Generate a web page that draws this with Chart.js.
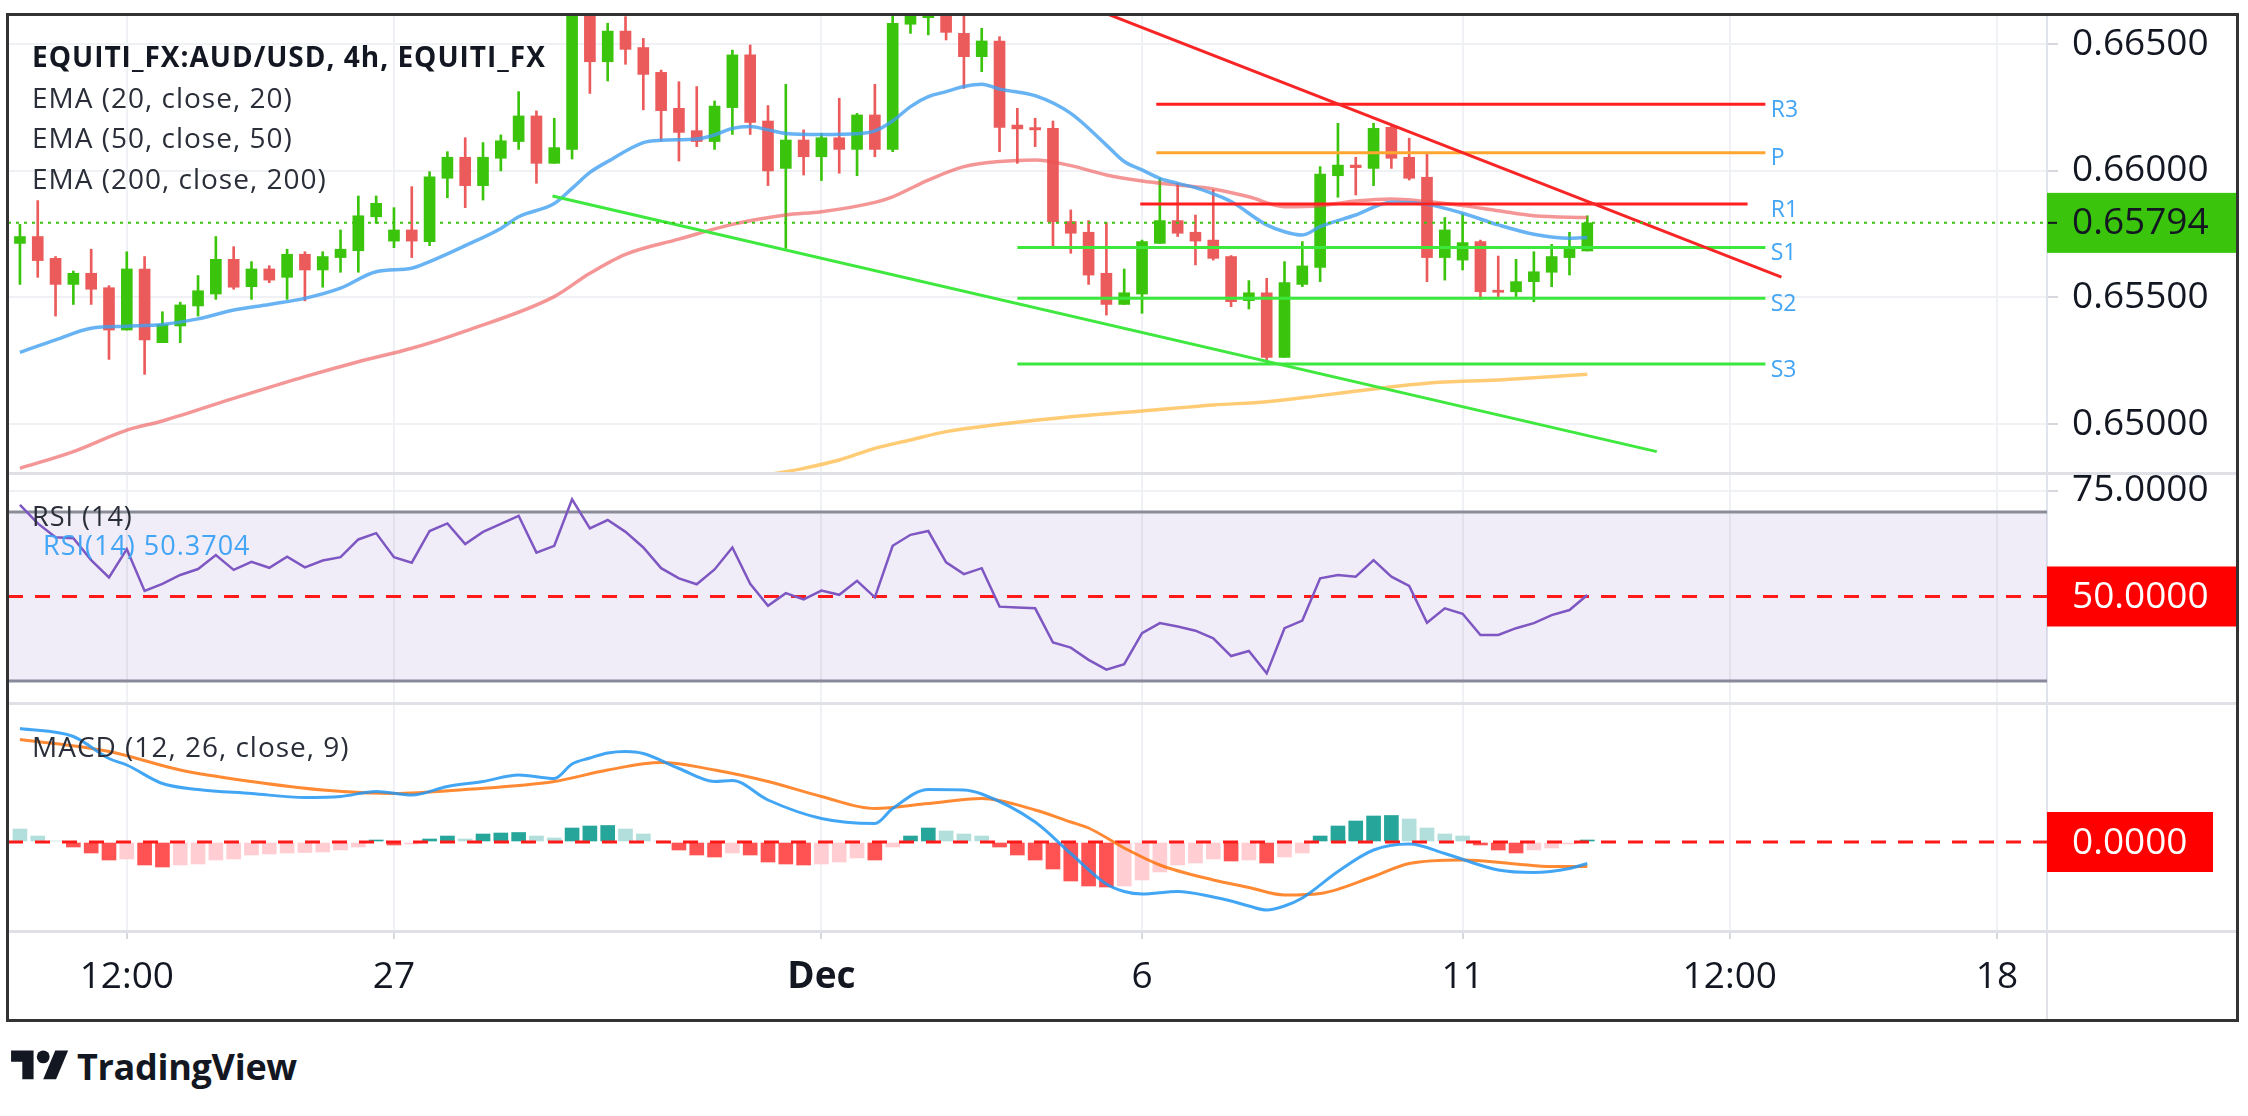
<!DOCTYPE html>
<html>
<head>
<meta charset="utf-8">
<title>EQUITI_FX:AUD/USD 4h</title>
<script src="https://cdn.jsdelivr.net/npm/chart.js@4/dist/chart.umd.min.js"></script>
<style>
  html, body { margin:0; padding:0; background:#ffffff; }
  body { width:2248px; height:1116px; position:relative; overflow:hidden; font-family:'Open Sans', sans-serif; }
  canvas { position:absolute; left:0; }
  .t { position:absolute; white-space:nowrap; color:#2a2e39; letter-spacing:1px; line-height:40px; font-size:28px; pointer-events:none; }
  .sep { position:absolute; background:#dfe1e6; }
</style>
</head>
<body>
<canvas id="cp" width="2248" height="473" style="top:0;width:2248px;height:473px"></canvas>
<canvas id="cr" width="2248" height="230" style="top:473px;width:2248px;height:230px"></canvas>
<canvas id="cm" width="2248" height="317" style="top:703px;width:2248px;height:317px"></canvas>
<div class="sep" style="left:9px;top:472px;width:2228px;height:3px"></div>
<div class="sep" style="left:9px;top:702px;width:2228px;height:3px"></div>
<div class="sep" style="left:9px;top:930px;width:2228px;height:3px"></div>
<div class="sep" style="left:2046px;top:930px;width:2px;height:89px"></div>
<div style="position:absolute;left:6px;top:13px;width:2227px;height:1003px;border:3px solid #333;pointer-events:none"></div>

<div class="t" id="title" style="left:32px;top:36px;font-weight:700;color:#131722"></div>
<div class="t" id="lg0" style="left:32px;top:77px"></div>
<div class="t" id="lg1" style="left:32px;top:117px"></div>
<div class="t" id="lg2" style="left:32px;top:158px"></div>
<div class="t" id="rsiT" style="left:32px;top:496px;font-size:27px"></div>
<div class="t" id="rsiV" style="left:43px;top:525px;font-size:27px;color:#42a5f5"></div>
<div class="t" id="macdT" style="left:32px;top:726px"></div>

<div style="position:absolute;left:11px;top:1044px;height:44px;display:flex;align-items:center;">
  <svg width="58" height="45" viewBox="0 0 36 28"><path d="M14 22H7V11H0V4h14v18z" fill="#131722"/><circle cx="20" cy="8" r="4" fill="#131722"/><path d="M28 22h-8l7.5-18h8L28 22z" fill="#131722"/></svg>
  <span style="font-weight:700;font-size:36px;margin-left:8px;color:#131722;letter-spacing:-0.3px">TradingView</span>
</div>

<script>
// ---------------- DATA ----------------
const titleText = 'EQUITI_FX:AUD/USD, 4h, EQUITI_FX';
const legendTexts = ['EMA (20, close, 20)', 'EMA (50, close, 50)', 'EMA (200, close, 200)'];
const rsiTitle = 'RSI (14)';
const macdTitle = 'MACD (12, 26, close, 9)';

// bar positions: first visible bar index relative to Nov 27 00:00 (4h bars)
const FIRST_BAR = -21;
const timeTickPos = [-15, 0, 24, 42, 60, 75, 90];
const timeTickLabels = ['12:00', '27', 'Dec', '6', '11', '12:00', '18'];
const priceTicks = [0.650, 0.655, 0.660, 0.665];
const rsiTicks = [75];

const opens = [0.65713,0.65740,0.65654,0.65551,0.65595,0.65538,0.65371,0.65612,0.65321,0.65387,0.65466,0.65513,0.65650,0.65542,0.65612,0.65579,0.65670,0.65608,0.65657,0.65684,0.65818,
0.65722,0.65766,0.65720,0.65970,0.66053,0.65941,0.66049,0.66115,0.66216,0.66029,0.66084,0.66634,0.66430,0.66551,0.66486,0.66388,0.66246,0.66158,0.66115,0.66249,0.66457,0.66196,0.66009,0.66121,
0.66055,0.66130,0.66084,0.66220,0.66084,0.66578,0.66604,0.66621,0.66542,0.66450,0.66512,0.66180,0.66170,0.66167,0.65799,0.65757,0.65595,0.65472,0.65513,0.65713,0.65803,0.65757,0.65726,0.65661,
0.65487,0.65518,0.65263,0.65551,0.65618,0.65980,0.66022,0.66009,0.66171,0.66053,0.65974,0.65657,0.65647,0.65720,0.65528,0.65522,0.65562,0.65599,0.65657,0.65683];
const highs = [0.65788,0.65882,0.65661,0.65604,0.65690,0.65546,0.65680,0.65661,0.65443,0.65481,0.65586,0.65740,0.65700,0.65641,0.65625,0.65690,0.65680,0.65680,0.65766,0.65900,0.65900,
0.65854,0.65937,0.65996,0.66075,0.66130,0.66111,0.66141,0.66312,0.66236,0.66207,0.66654,0.66647,0.66582,0.66608,0.66522,0.66397,0.66351,0.66332,0.66275,0.66476,0.66496,0.66257,0.66341,0.66161,
0.66147,0.66286,0.66226,0.66341,0.66621,0.66641,0.66647,0.66634,0.66614,0.66562,0.66529,0.66246,0.66207,0.66196,0.65845,0.65803,0.65795,0.65612,0.65726,0.65970,0.65950,0.65825,0.65924,0.65665,
0.65566,0.65575,0.65641,0.65720,0.66016,0.66187,0.66053,0.66187,0.66176,0.66128,0.66071,0.65815,0.65829,0.65726,0.65663,0.65650,0.65680,0.65709,0.65757,0.65822];
const lows = [0.65551,0.65579,0.65426,0.65472,0.65472,0.65255,0.65371,0.65196,0.65321,0.65321,0.65426,0.65492,0.65532,0.65492,0.65558,0.65492,0.65486,0.65540,0.65599,0.65599,0.65792,
0.65696,0.65657,0.65704,0.65893,0.65854,0.65884,0.65999,0.66084,0.65950,0.66029,0.66046,0.66305,0.66354,0.66420,0.66240,0.66117,0.66038,0.66095,0.66084,0.66143,0.66143,0.65941,0.65693,0.65983,
0.65961,0.65990,0.65980,0.66055,0.66075,0.66542,0.66536,0.66516,0.66325,0.66391,0.66075,0.66029,0.66095,0.65693,0.65674,0.65551,0.65430,0.65472,0.65437,0.65713,0.65740,0.65628,0.65647,0.65463,
0.65454,0.65236,0.65263,0.65542,0.65562,0.65895,0.65904,0.65941,0.66009,0.65963,0.65562,0.65568,0.65608,0.65492,0.65503,0.65503,0.65483,0.65542,0.65588,0.65683];
const closes = [0.65740,0.65645,0.65551,0.65595,0.65532,0.65371,0.65612,0.65332,0.65393,0.65470,0.65526,0.65650,0.65540,0.65612,0.65568,0.65670,0.65608,0.65661,0.65690,0.65822,0.65871,
0.65766,0.65722,0.65976,0.66053,0.65941,0.66053,0.66118,0.66216,0.66029,0.66091,0.66634,0.66430,0.66551,0.66479,0.66380,0.66237,0.66151,0.66115,0.66255,0.66457,0.66190,0.65999,0.66121,0.66055,
0.66130,0.66084,0.66220,0.66084,0.66582,0.66621,0.66625,0.66546,0.66450,0.66512,0.66171,0.66165,0.66161,0.65799,0.65753,0.65588,0.65472,0.65518,0.65720,0.65803,0.65753,0.65722,0.65654,0.65483,
0.65518,0.65263,0.65558,0.65624,0.65987,0.66022,0.66012,0.66167,0.66049,0.65970,0.65657,0.65766,0.65716,0.65522,0.65520,0.65562,0.65601,0.65661,0.65693,0.65794];

// EMA readings [bar, price]
const ema20 = [[-21,0.65283],[-19,0.65332],[-17,0.65378],[-15,0.65386],[-13,0.65393],[-11,0.65415],[-9,0.65450],[-7,0.65472],[-5,0.65496],[-3,0.65536],[-1,0.65601],[1,0.65615],[2,0.65641],[4,0.65704],[6,0.65772],[7,0.65818],[9,0.65870],[10,0.65930],[11,0.65993],[12,0.66036],[14,0.66111],[15,0.66120],[17,0.66125],[18,0.66141],[19,0.66167],[20,0.66174],[21,0.66161],[22,0.66147],[24,0.66143],[26,0.66146],[27,0.66157],[28,0.66196],[29,0.66253],[30,0.66292],[31,0.66312],[32,0.66332],[33,0.66341],[34,0.66322],[36,0.66296],[38,0.66226],[40,0.66101],[41,0.66036],[42,0.66003],[43,0.65970],[44,0.65950],[45,0.65933],[46,0.65908],[47,0.65878],[49,0.65786],[50,0.65759],[51,0.65746],[52,0.65779],[54,0.65825],[56,0.65875],[58,0.65867],[60,0.65832],[62,0.65786],[64,0.65749],[66,0.65733],[67,0.65736]];
const ema50 = [[-21,0.64825],[-18,0.64891],[-15,0.64976],[-13,0.65012],[-9,0.65101],[-5,0.65187],[-2,0.65246],[1,0.65299],[4,0.65367],[9,0.65503],[11,0.65595],[13,0.65670],[16,0.65730],[19,0.65788],[22,0.65825],[24,0.65838],[27,0.65875],[28,0.65897],[30,0.65963],[32,0.66016],[34,0.66036],[36,0.66042],[38,0.66020],[40,0.65983],[42,0.65959],[44,0.65943],[46,0.65928],[48,0.65897],[50,0.65858],[52,0.65862],[54,0.65880],[56,0.65888],[58,0.65878],[60,0.65862],[62,0.65842],[64,0.65822],[67,0.65815]];
const ema200 = [[21,0.64799],[23,0.64825],[25,0.64858],[27,0.64904],[29,0.64937],[31,0.64970],[34,0.64999],[38,0.65029],[42,0.65051],[46,0.65075],[49,0.65088],[52,0.65112],[55,0.65138],[58,0.65161],[62,0.65174],[67,0.65196]];

// Pivot levels
const pivotNames = ['R3', 'P', 'R1', 'S1', 'S2', 'S3'];
const pivotLevels = [0.66262, 0.66071, 0.65868, 0.65697, 0.65496, 0.65237];
const pivotStart = [42.8, 42.8, 41.9, 35.0, 35.0, 35.0];
const pivotEnd = [77.0, 77.0, 76.0, 77.0, 77.0, 77.0];
const pivotColors = ['#ff1f1f', '#ffa630', '#ff1f1f', '#3de83d', '#3de83d', '#3de83d'];

// Trendlines [bar, price]
const resistanceLine = [[40, 0.66620], [77.9, 0.65580]];
const supportLine = [[8.9, 0.65900], [70.9, 0.64891]];

// RSI (14) per bar
const rsi = [71.7,67.3,64.0,63.8,58.6,54.5,61.2,51.3,53.0,55.1,56.5,59.8,56.3,58.2,56.8,59.4,56.9,58.5,59.3,63.5,65.0,
59.3,58.0,65.5,67.3,62.4,65.3,67.2,69.1,60.4,62.0,73.0,66.1,68.1,65.3,61.6,56.7,54.3,52.9,56.4,61.6,53.0,47.8,50.8,49.3,
51.4,50.4,53.7,49.8,62.0,64.6,65.5,58.1,55.3,56.7,47.6,47.4,47.2,39.1,37.9,35.0,32.7,34.0,41.3,43.7,42.9,41.9,40.1,35.9,
37.1,31.8,42.5,44.3,54.3,55.1,54.7,58.6,54.7,52.5,43.8,47.2,45.9,40.9,40.9,42.5,43.7,45.6,46.8,50.3704];
const rsiBands = [70, 30];
const rsiMid = 50;

// MACD readings
const macdLine = [[-21,0.00227],[-18,0.00211],[-16,0.00167],[-15,0.00154],[-13,0.00117],[-11,0.00105],[-8,0.00097],[-5,0.00089],[-3,0.00091],[-1,0.00101],[1,0.00094],[3,0.00111],[5,0.00121],[7,0.00134],[9,0.00127],[10,0.00156],[11,0.00168],[12,0.00178],[13,0.00181],[14,0.00177],[16,0.00147],[18,0.00121],[19,0.00123],[21,0.00084],[24,0.00047],[27,0.00037],[28,0.00067],[30,0.00105],[32,0.00104],[33,0.00096],[36,0.00040],[38,-0.00023],[40,-0.00084],[41,-0.00099],[42,-0.00104],[44,-0.00099],[46,-0.00110],[47,-0.00118],[48,-0.00128],[49,-0.00136],[50,-0.00128],[51,-0.00112],[53,-0.00059],[55,-0.00016],[57,-0.00004],[59,-0.00023],[62,-0.00056],[64,-0.00061],[66,-0.00053],[67,-0.00043]];
const macdSignal = [[-21,0.00205],[-16,0.00181],[-12,0.00144],[-8,0.00121],[-4,0.00104],[0,0.00097],[4,0.00105],[9,0.00121],[12,0.00144],[15,0.00159],[18,0.00144],[21,0.00121],[24,0.00091],[27,0.00067],[30,0.00077],[33,0.00087],[36,0.00064],[38,0.00040],[39,0.00028],[41,-0.00012],[43,-0.00046],[46,-0.00076],[48,-0.00091],[50,-0.00106],[52,-0.00103],[55,-0.00069],[57,-0.00043],[60,-0.00036],[63,-0.00044],[65,-0.00049],[67,-0.00049]];
const macdHist = [0.00026,0.00012,0.00002,-0.00010,-0.00022,-0.00036,-0.00034,-0.00046,-0.00050,-0.00046,-0.00044,-0.00036,-0.00034,-0.00026,-0.00024,-0.00022,-0.00021,-0.00020,-0.00016,-0.00010,0.00004,
-0.00006,-0.00004,0.00006,0.00012,0.00006,0.00016,0.00018,0.00019,0.00012,0.00008,0.00028,0.00032,0.00033,0.00026,0.00016,0.00002,-0.00016,-0.00026,-0.00030,-0.00022,-0.00026,-0.00040,-0.00044,-0.00046,
-0.00044,-0.00040,-0.00032,-0.00036,-0.00010,0.00012,0.00028,0.00022,0.00016,0.00012,-0.00010,-0.00026,-0.00036,-0.00054,-0.00078,-0.00088,-0.00090,-0.00088,-0.00076,-0.00060,-0.00046,-0.00042,-0.00034,-0.00038,
-0.00036,-0.00042,-0.00030,-0.00022,0.00012,0.00032,0.00042,0.00052,0.00053,0.00046,0.00028,0.00016,0.00012,-0.00006,-0.00016,-0.00022,-0.00016,-0.00012,-0.00004,0.00004];

// ---------------- STYLE / LAYOUT ----------------
const UP = '#3bc40c', DOWN = '#ec5b5b';
const GRID = '#f0f1f4';
const X_MIN = -21.67, X_MAX = 92.81;
const PIVOT_LABEL_X = 77.3;
Chart.defaults.font.family = "'Open Sans', sans-serif";
Chart.defaults.color = '#131722';
Chart.defaults.animation = false;
Chart.defaults.responsive = false;
Chart.defaults.plugins.legend.display = false;
Chart.defaults.plugins.tooltip.enabled = false;
Chart.defaults.elements.point.radius = 0;

document.getElementById('title').textContent = titleText;
legendTexts.forEach((t, i) => document.getElementById('lg' + i).textContent = t);
document.getElementById('rsiT').textContent = rsiTitle;
document.getElementById('rsiV').textContent = 'RSI(14) ' + rsi[rsi.length - 1].toFixed(4);
document.getElementById('macdT').textContent = macdTitle;

const barX = opens.map((_, i) => FIRST_BAR + i);
const pts = arr => arr.map(([x, y]) => ({ x, y }));
const lastClose = closes[closes.length - 1];

function xScale(labels) {
  return {
    type: 'linear', min: X_MIN, max: X_MAX, offset: false,
    afterBuildTicks: s => { s.ticks = timeTickPos.map(v => ({ value: v })); },
    grid: { color: GRID, lineWidth: 2, offset: false, drawTicks: labels, tickLength: 8, tickColor: '#d6d8de', tickWidth: 2 },
    border: { display: false },
    ticks: labels ? {
      display: true, autoSkip: false, maxRotation: 0, minRotation: 0, padding: 16, color: '#131722',
      font: c => ({ size: 37, weight: (c.tick && timeTickLabels[timeTickPos.indexOf(c.tick.value)] === 'Dec') ? 'bold' : 'normal' }),
      callback: v => timeTickLabels[timeTickPos.indexOf(v)]
    } : { display: false },
    afterFit: s => { s.height = labels ? 89 : 0; s.paddingLeft = 0; s.paddingRight = 0; }
  };
}
function yScale(min, max, ticks, fmt, showGrid) {
  return {
    type: 'linear', position: 'right', min, max, beginAtZero: false,
    afterBuildTicks: s => { s.ticks = ticks.map(v => ({ value: v })); },
    afterFit: s => { s.width = 190; s.paddingTop = 0; s.paddingBottom = 0; },
    grid: { color: showGrid ? GRID : 'rgba(0,0,0,0)', lineWidth: 2, drawTicks: true, tickLength: 11, tickColor: showGrid ? '#d6d8de' : 'rgba(0,0,0,0)', tickWidth: 2 },
    border: { display: true, color: '#e0e3eb', width: 2 },
    ticks: { color: '#131722', font: { size: 37 }, padding: 14, callback: fmt }
  };
}
function boxLabel(ctx, y, left, width, py, bg, fg, text) {
  ctx.save();
  ctx.fillStyle = bg;
  ctx.fillRect(left, py - 30, width, 60);
  ctx.fillStyle = fg;
  ctx.font = "37px 'Open Sans'";
  ctx.textBaseline = 'middle';
  ctx.textAlign = 'left';
  ctx.fillText(text, left + 25, py + 1);
  ctx.restore();
}

// ---------------- PRICE PANE ----------------
const pricePlugin = {
  id: 'priceOverlay',
  afterDraw(chart) {
    const { ctx } = chart; const y = chart.scales.y; const x = chart.scales.x;
    ctx.save();
    ctx.font = "23px 'Open Sans'"; ctx.fillStyle = '#42a5f5'; ctx.textBaseline = 'middle'; ctx.textAlign = 'left';
    pivotNames.forEach((n, i) => ctx.fillText(n, x.getPixelForValue(PIVOT_LABEL_X), y.getPixelForValue(pivotLevels[i]) + 6));
    ctx.restore();
    const py = y.getPixelForValue(lastClose);
    boxLabel(ctx, y, y.left, y.right - y.left, py, UP, '#131722', lastClose.toFixed(5));
    ctx.fillStyle = '#131722'; ctx.fillRect(y.left + 1, py - 1, 9, 2);
  }
};

const priceDatasets = [
  { type: 'line', data: [{ x: X_MIN, y: lastClose }, { x: X_MAX, y: lastClose }], borderColor: UP, borderWidth: 2, borderDash: [3, 5], order: 1, clip: 0 },
  { type: 'line', data: pts(resistanceLine), borderColor: '#f72525', borderWidth: 3, order: 2, clip: 0 },
  { type: 'line', data: pts(supportLine), borderColor: '#3ee83e', borderWidth: 3, order: 2, clip: 0 },
  ...pivotNames.map((n, i) => ({ type: 'line', data: [{ x: pivotStart[i], y: pivotLevels[i] }, { x: pivotEnd[i], y: pivotLevels[i] }], borderColor: pivotColors[i], borderWidth: 3, order: 3, clip: 0 })),
  { type: 'line', data: pts(ema20), borderColor: 'rgba(66,160,240,0.8)', borderWidth: 3.5, cubicInterpolationMode: 'monotone', order: 4, clip: 0 },
  { type: 'line', data: pts(ema50), borderColor: 'rgba(238,80,80,0.6)', borderWidth: 3.5, cubicInterpolationMode: 'monotone', order: 4, clip: 0 },
  { type: 'line', data: pts(ema200), borderColor: 'rgba(255,185,70,0.75)', borderWidth: 3.5, cubicInterpolationMode: 'monotone', order: 4, clip: 0 },
  { type: 'bar', data: barX.map((x, i) => ({ x, y: [opens[i], closes[i]] })), backgroundColor: opens.map((o, i) => closes[i] >= o ? UP : DOWN),
    grouped: false, barThickness: 11, maxBarThickness: 11, borderWidth: 0, order: 5, clip: 0 },
  { type: 'bar', data: barX.map((x, i) => ({ x, y: [lows[i], highs[i]] })), backgroundColor: opens.map((o, i) => closes[i] >= o ? UP : DOWN),
    grouped: false, barThickness: 2, maxBarThickness: 2, borderWidth: 0, order: 6, clip: 0 }
];

new Chart(document.getElementById('cp'), {
  type: 'line',
  data: { datasets: priceDatasets },
  options: {
    layout: { padding: { left: 8, right: 11, top: 15, bottom: 0 } },
    scales: { x: xScale(false), y: yScale(0.648066, 0.666145, priceTicks, v => v.toFixed(5), true) }
  },
  plugins: [pricePlugin]
});

// ---------------- RSI PANE ----------------
const rsiPlugin = {
  id: 'rsiOverlay',
  afterDraw(chart) {
    const y = chart.scales.y;
    boxLabel(chart.ctx, y, y.left, y.right - y.left, y.getPixelForValue(rsiMid), '#ff0000', '#ffffff', rsiMid.toFixed(4));
  }
};
new Chart(document.getElementById('cr'), {
  type: 'line',
  data: { datasets: [
    { type: 'line', data: barX.map((x, i) => ({ x, y: rsi[i] })), borderColor: '#7e57c2', borderWidth: 2.5, order: 1, clip: 0 },
    { type: 'line', data: [{ x: X_MIN, y: rsiMid }, { x: X_MAX, y: rsiMid }], borderColor: '#ff1a1a', borderWidth: 3, borderDash: [15, 12], order: 2, clip: 0 },
    { type: 'line', data: [{ x: X_MIN, y: rsiBands[0] }, { x: X_MAX, y: rsiBands[0] }], borderColor: '#8a8d99', borderWidth: 3, fill: '+1', backgroundColor: 'rgba(126,87,194,0.11)', order: 3, clip: 0 },
    { type: 'line', data: [{ x: X_MIN, y: rsiBands[1] }, { x: X_MAX, y: rsiBands[1] }], borderColor: '#8a8d99', borderWidth: 3, fill: false, order: 3, clip: 0 }
  ] },
  options: {
    layout: { padding: { left: 8, right: 11, top: 0, bottom: 0 } },
    scales: { x: xScale(false), y: yScale(24.79, 79.23, rsiTicks, v => v.toFixed(4), true) }
  },
  plugins: [rsiPlugin]
});

// ---------------- MACD PANE ----------------
const histColors = macdHist.map((h, i) => {
  const prev = i > 0 ? macdHist[i - 1] : (h >= 0 ? Infinity : -Infinity);
  if (h >= 0) return h >= prev ? '#26a69a' : '#b2dfdb';
  return h < prev ? '#ff5252' : '#ffcdd2';
});
const macdPlugin = {
  id: 'macdOverlay',
  afterDraw(chart) {
    const y = chart.scales.y;
    boxLabel(chart.ctx, y, y.left, 166, y.getPixelForValue(0), '#ff0000', '#ffffff', (0).toFixed(4));
  }
};
new Chart(document.getElementById('cm'), {
  type: 'line',
  data: { datasets: [
    { type: 'line', data: pts(macdLine), borderColor: 'rgba(33,150,243,0.85)', borderWidth: 3, cubicInterpolationMode: 'monotone', order: 1, clip: 0 },
    { type: 'line', data: pts(macdSignal), borderColor: 'rgba(255,109,0,0.8)', borderWidth: 3, cubicInterpolationMode: 'monotone', order: 1, clip: 0 },
    { type: 'line', data: [{ x: X_MIN, y: 0 }, { x: X_MAX, y: 0 }], borderColor: '#ff1a1a', borderWidth: 3, borderDash: [15, 12], order: 2, clip: 0 },
    { type: 'bar', data: barX.map((x, i) => ({ x, y: macdHist[i] })), backgroundColor: histColors,
      grouped: false, barThickness: 14, maxBarThickness: 14, borderWidth: 0, order: 3, clip: 0 }
  ] },
  options: {
    layout: { padding: { left: 8, right: 11, top: 0, bottom: 0 } },
    scales: { x: xScale(true), y: yScale(-0.00178, 0.00278, [0], () => '', false) }
  },
  plugins: [macdPlugin]
});
</script>
</body>
</html>
